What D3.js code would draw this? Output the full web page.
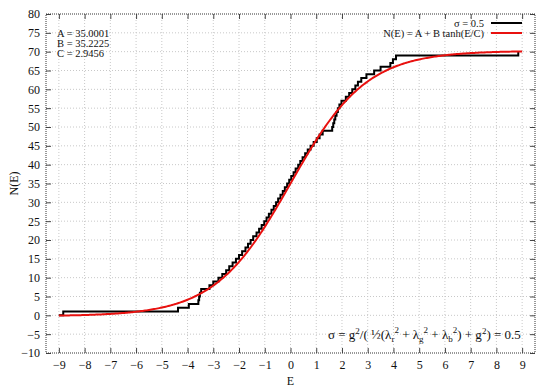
<!DOCTYPE html>
<html>
<head>
<meta charset="utf-8">
<script src="https://cdn.jsdelivr.net/npm/d3@7"></script>
<style>
  body { margin: 0; background: #fff; }
  text { font-family: "Liberation Serif", "DejaVu Serif", serif; fill: #111; }
</style>
</head>
<body>
<svg id="chart" width="554" height="388"></svg>
<script>
// fit parameters shown in the chart
let fitA = 35.0001;
let fitB = 35.2225;
let fitC = 2.9456;

// energies where the counting function N(E) steps up by one
let stepE = [
  -8.83, -4.37, -3.95, -3.58, -3.55, -3.52, -3.47, -3.15, -3.0, -2.8,
  -2.65, -2.5, -2.38, -2.25, -2.12, -2.0, -1.88, -1.75, -1.65, -1.55,
  -1.45, -1.32, -1.22, -1.12, -1.02, -0.93, -0.84, -0.74, -0.65, -0.56,
  -0.48, -0.39, -0.3, -0.22, -0.13, -0.05, 0.03, 0.12, 0.2, 0.3,
  0.38, 0.47, 0.57, 0.67, 0.78, 0.9, 1.02, 1.13, 1.25, 1.62,
  1.66, 1.7, 1.74, 1.79, 1.84, 1.9, 1.98, 2.15, 2.28, 2.4,
  2.52, 2.62, 2.75, 2.95, 3.25, 3.5, 3.88, 3.98, 4.1, 8.85
];
let startE = -9;

let xTicks = d3.range(-9, 10, 1);
let yTicks = d3.range(-10, 81, 5);

let plotL = 46, plotR = 535, plotT = 14, plotB = 353;
let serif = '"Liberation Serif", "DejaVu Serif", serif';

let svg = d3.select("#chart");

let x = d3.scaleLinear().domain([-9.5, 9.5]).range([plotL, plotR]);
let y = d3.scaleLinear().domain([-10, 80]).range([plotB, plotT]);

let fmt = (d) => (d < 0 ? "\u2212" + Math.abs(d) : "" + d);

// grid
svg.append("g")
  .selectAll("line")
  .data(xTicks)
  .join("line")
  .attr("x1", (d) => x(d)).attr("x2", (d) => x(d))
  .attr("y1", plotT).attr("y2", plotB)
  .style("stroke", "#c8c8c8")
  .style("stroke-width", 1)
  .style("stroke-dasharray", "1,2");

svg.append("g")
  .selectAll("line")
  .data(yTicks.filter((d) => d > -10 && d < 80))
  .join("line")
  .attr("x1", plotL).attr("x2", plotR)
  .attr("y1", (d) => y(d)).attr("y2", (d) => y(d))
  .style("stroke", "#c8c8c8")
  .style("stroke-width", 1)
  .style("stroke-dasharray", "1,2");

// axes (ticks pointing inward, mirrored)
let tickStyle = (g) => {
  g.select(".domain").remove();
  g.selectAll(".tick line").style("stroke", "#444");
  g.selectAll(".tick text")
    .style("font-family", serif)
    .style("font-size", "12px")
    .style("fill", "#111");
};

svg.append("g")
  .attr("transform", `translate(0,${plotB})`)
  .call(d3.axisBottom(x).tickValues(xTicks).tickFormat(fmt).tickSizeInner(-5).tickPadding(7))
  .call(tickStyle);

svg.append("g")
  .attr("transform", `translate(0,${plotT})`)
  .call(d3.axisTop(x).tickValues(xTicks).tickFormat("").tickSizeInner(-5))
  .call(tickStyle);

svg.append("g")
  .attr("transform", `translate(${plotL},0)`)
  .call(d3.axisLeft(y).tickValues(yTicks).tickFormat(fmt).tickSizeInner(-5).tickPadding(6))
  .call(tickStyle);

svg.append("g")
  .attr("transform", `translate(${plotR},0)`)
  .call(d3.axisRight(y).tickValues(yTicks).tickFormat("").tickSizeInner(-5))
  .call(tickStyle);

// border
svg.append("rect")
  .attr("x", plotL).attr("y", plotT)
  .attr("width", plotR - plotL).attr("height", plotB - plotT)
  .style("fill", "none")
  .style("stroke", "#333")
  .style("stroke-width", 1)
  .style("stroke-dasharray", "1,1");

// step curve
let stepPts = [[startE, 0]].concat(stepE.map((e, i) => [e, i + 1]));
let stepLine = d3.line()
  .x((d) => x(d[0]))
  .y((d) => y(d[1]))
  .curve(d3.curveStepAfter);

svg.append("path")
  .datum(stepPts)
  .attr("d", stepLine)
  .style("fill", "none")
  .style("stroke", "#000")
  .style("stroke-width", 2);

// fitted tanh curve
let fitPts = d3.range(-9, 9.001, 0.05).map((e) => [e, fitA + fitB * Math.tanh(e / fitC)]);
svg.append("path")
  .datum(fitPts)
  .attr("d", d3.line().x((d) => x(d[0])).y((d) => y(d[1])))
  .style("fill", "none")
  .style("stroke", "#e8110f")
  .style("stroke-width", 2);

// axis titles
svg.append("text")
  .attr("x", x(0)).attr("y", 385)
  .attr("text-anchor", "middle")
  .style("font-family", serif)
  .style("font-size", "12px")
  .text("E");

svg.append("text")
  .attr("transform", `translate(18,${(plotT + plotB) / 2}) rotate(-90)`)
  .attr("text-anchor", "middle")
  .style("font-family", serif)
  .style("font-size", "12px")
  .text("N(E)");

// parameter labels
let params = [`A = ${fitA.toFixed(4)}`, `B = ${fitB.toFixed(4)}`, `C = ${fitC.toFixed(4)}`];
svg.append("g")
  .selectAll("text")
  .data(params)
  .join("text")
  .attr("x", 57)
  .attr("y", (d, i) => 37 + i * 10)
  .style("font-family", serif)
  .style("font-size", "10.5px")
  .text((d) => d);

// legend
let legend = [
  { label: "\u03c3 = 0.5", color: "#000" },
  { label: "N(E) = A + B tanh(E/C)", color: "#e8110f" }
];
let lg = svg.append("g");
lg.selectAll("text")
  .data(legend)
  .join("text")
  .attr("x", 484)
  .attr("y", (d, i) => 27 + i * 10)
  .attr("text-anchor", "end")
  .style("font-family", serif)
  .style("font-size", "10.5px")
  .text((d) => d.label);
lg.selectAll("line")
  .data(legend)
  .join("line")
  .attr("x1", 491).attr("x2", 522)
  .attr("y1", (d, i) => 23 + i * 10).attr("y2", (d, i) => 23 + i * 10)
  .style("stroke", (d) => d.color)
  .style("stroke-width", 2);

// sigma formula
let ft = svg.append("text")
  .attr("x", 328).attr("y", 339)
  .style("font-family", serif)
  .style("font-size", "13px");
let parts = [
  ["\u03c3 = g", 0], ["2", -5], ["/( \u00bd(\u03bb", 5], ["r", 3], ["2", -9], [" + \u03bb", 6],
  ["g", 3], ["2", -9], [" + \u03bb", 6], ["b", 3], ["2", -9], [") + g", 6], ["2", -5], [") = 0.5", 5]
];
parts.forEach((p) => {
  let small = p[0].length === 1 && p[1] !== 0;
  ft.append("tspan")
    .attr("dy", p[1])
    .style("font-size", small ? "9px" : "13px")
    .text(p[0]);
});
</script>
</body>
</html>
